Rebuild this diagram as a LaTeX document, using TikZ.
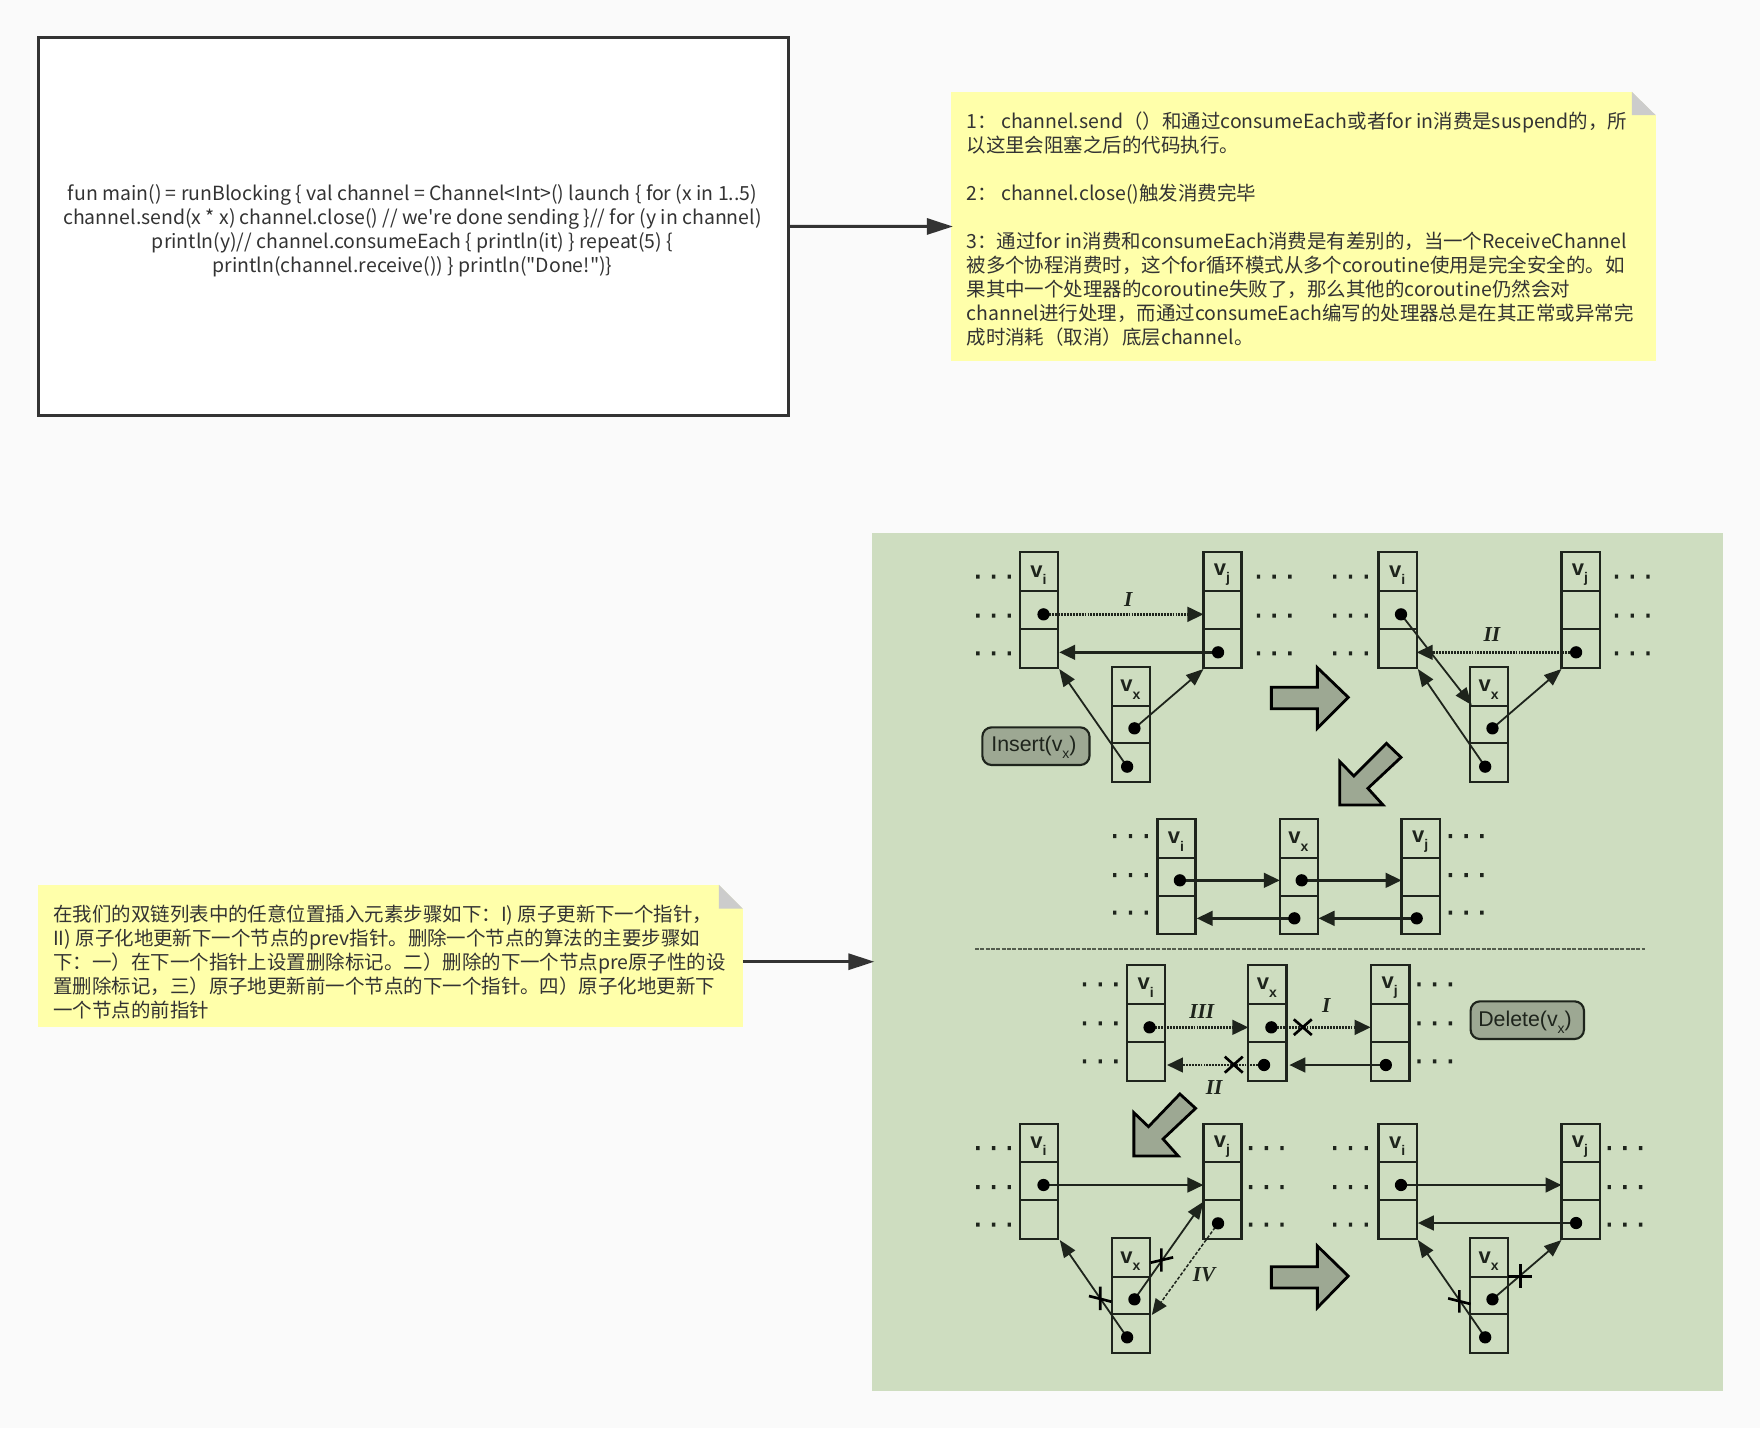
\documentclass[tikz,border=0pt]{standalone}
\usepackage{fontspec}
\usetikzlibrary{arrows.meta}
\newfontfamily\cnfont{Noto Sans CJK SC}
\newfontfamily\hvfont{Liberation Sans}
\newfontfamily\tmfont{Liberation Serif}
\definecolor{pagebg}{HTML}{FAFAFA}
\definecolor{notey}{HTML}{FFFFAA}
\definecolor{foldg}{HTML}{CCCCCC}
\definecolor{inkc}{HTML}{333333}
\definecolor{panelg}{HTML}{CEDDC0}
\definecolor{arrowg}{HTML}{9DA893}
\definecolor{linec}{HTML}{1E241C}
\tikzset{
  codebox/.style={draw=inkc,line width=2.25pt,fill=white,minimum width=750.5*0.75pt,minimum height=377.5*0.75pt,inner sep=0pt},
  notebox/.style={fill=notey,inner sep=0pt},
  cntext/.style={font=\cnfont\fontsize{14.6pt}{18pt}\selectfont,text=inkc,inner sep=0pt},
  conn/.style={draw=inkc,line width=2.25pt,-{Triangle[length=19.5pt,width=12pt,fill=inkc]},shorten >=-2pt},
  cellline/.style={draw=linec,line width=1.7pt},
  thick arrow/.style={draw=linec,line width=2pt,-{Triangle[length=12pt,width=11pt,fill=linec]}},
  thin arrow/.style={draw=linec,line width=1.35pt,-{Triangle[length=13pt,width=10pt,fill=linec]}},
  dot arrow/.style={draw=linec,line width=1.9pt,dash pattern=on 1.4pt off 0.8pt,-{Triangle[length=12pt,width=11pt,fill=linec]}},
  bigarrow/.style={draw=black,line width=2.1pt,fill=arrowg,line join=miter},
  pill/.style={draw=linec,line width=1.6pt,fill=arrowg,rounded corners=7pt},
  crossline/.style={draw=black,line width=2pt},
  romanlab/.style={font=\tmfont\itshape\bfseries\fontsize{16pt}{16pt}\selectfont,text=linec,inner sep=0pt},
  vlabel/.style={font=\hvfont\bfseries\fontsize{16.5pt}{16.5pt}\selectfont,text=linec,inner sep=0pt},
  pilltext/.style={font=\hvfont\fontsize{16pt}{16pt}\selectfont,text=linec,inner sep=0pt},
  zoomA/.style={shift={(860,520)},x=0.4209pt,y=-0.25pt},
  zoomB/.style={shift={(860,940)},x=0.4209pt,y=-0.25pt}
}
\newcommand{\subv}[1]{v\raisebox{-0.32em}{\fontsize{10.5pt}{10.5pt}\selectfont #1}}
% x, top, divider 1, divider 2, bottom, subscript
\newcommand{\cellcol}[6]{%
  \draw[cellline] (#1,#2) rectangle (#1+68,#5) (#1,#3) -- (#1+68,#3) (#1,#4) -- (#1+68,#4);
  \node[vlabel] at (#1+33,#2+68) {\subv{#6}};}
\newcommand{\rowdots}[2]{\fill[linec] (#1,#2-6) rectangle (#1+6,#2+6) (#1+28,#2-6) rectangle (#1+34,#2+6) (#1+56,#2-6) rectangle (#1+62,#2+6);}
\newcommand{\threedots}[4]{\rowdots{#1}{#2}\rowdots{#1}{#3}\rowdots{#1}{#4}}
\newcommand{\ptdot}[2]{\fill[black] (#1,#2) circle[radius=4.6pt];}
\begin{document}
\begin{tikzpicture}[x=0.75pt,y=-0.75pt]
\useasboundingbox (0,0) rectangle (1760,1428);
\fill[pagebg] (0,0) rectangle (1760,1428);

% code box
\node[codebox] (code) at (413.25,226.25) {};
\node[cntext,align=center] (codetext) at (412.5,231) {fun main() = runBlocking \{ val channel = Channel<Int>() launch \{ for (x in 1..5)\\channel.send(x * x) channel.close() // we're done sending \}// for (y in channel)\\println(y)// channel.consumeEach \{ println(it) \} repeat(5) \{\\println(channel.receive()) \} println("Done!")\}};

% note 1
\node[notebox,minimum width=705*0.75pt,minimum height=269*0.75pt] (note1) at (1303,226.5) {};
\fill[pagebg] (note1.north east) -- ++(-24,0) -- ++(24,23.5) -- cycle;
\fill[foldg] (note1.north east) ++(-24,0) -- ++(24,23.5) -- ++(-24,0) -- cycle;
\node[cntext,align=left,anchor=west] (note1text) at (966.3,229) {1：\ channel.send（）和通过consumeEach或者for in消费是suspend的，所\\以这里会阻塞之后的代码执行。\\[18pt]2：\ channel.close()触发消费完毕\\[18pt]3：通过for in消费和consumeEach消费是有差别的，当一个ReceiveChannel\\被多个协程消费时，这个for循环模式从多个coroutine使用是完全安全的。如\\果其中一个处理器的coroutine失败了，那么其他的coroutine仍然会对\\channel进行处理，而通过consumeEach编写的处理器总是在其正常或异常完\\成时消耗（取消）底层channel。};

% note 2
\node[notebox,minimum width=705*0.75pt,minimum height=142*0.75pt] (note2) at (390,956) {};
\fill[pagebg] (note2.north east) -- ++(-24,0) -- ++(24,24) -- cycle;
\fill[foldg] (note2.north east) ++(-24,0) -- ++(24,24) -- ++(-24,0) -- cycle;
\node[cntext,align=left,anchor=west] (note2text) at (53,962) {在我们的双链列表中的任意位置插入元素步骤如下：I) 原子更新下一个指针，\\II) 原子化地更新下一个节点的prev指针。删除一个节点的算法的主要步骤如\\下：一）在下一个指针上设置删除标记。二）删除的下一个节点pre原子性的设\\置删除标记，三）原子地更新前一个节点的下一个指针。四）原子化地更新下\\一个节点的前指针};

% panel
\node[fill=panelg,inner sep=0pt,minimum width=851*0.75pt,minimum height=858*0.75pt] (panel) at (1297.5,961.7) {};

% connectors
\draw[conn] (code.east) -- (note1.west);
\draw[conn] (panel.west -| note2.east) -- (panel.west);

% upper half of the panel
\begin{scope}[zoomA]
  % insert, left
  \cellcol{285}{97}{214}{327}{443}{i}
  \cellcol{612}{97}{214}{327}{443}{j}
  \cellcol{449}{441}{557}{670}{787}{x}
  \threedots{207}{170}{287}{400}
  \threedots{707}{170}{287}{400}
  \draw[dot arrow] (327,283) -- (612,283);
  \draw[thick arrow] (638,397) -- (355,397);
  \draw[thin arrow] (476,740) -- (355,447);
  \draw[thin arrow] (489,625) -- (612,447);
  \ptdot{327}{283}\ptdot{638}{397}\ptdot{489}{625}\ptdot{476}{740}
  \node[romanlab] at (478,238) {I};
  \draw[pill] (218,622) rectangle (409,735);
  \node[pilltext] at (310,681) {Insert(\subv{x})};
  % insert, right
  \cellcol{924}{97}{214}{327}{443}{i}
  \cellcol{1250}{97}{214}{327}{443}{j}
  \cellcol{1087}{441}{557}{670}{787}{x}
  \threedots{843}{170}{287}{400}
  \threedots{1345}{170}{287}{400}
  \draw[thin arrow] (964,283) -- (1090,555);
  \draw[dot arrow] (1276,397) -- (992,397);
  \draw[thin arrow] (1114,740) -- (994,447);
  \draw[thin arrow] (1127,625) -- (1250,447);
  \ptdot{964}{283}\ptdot{1276}{397}\ptdot{1127}{625}\ptdot{1114}{740}
  \node[romanlab] at (1126,345) {II};
  % block arrows
  \draw[bigarrow] (733,502) -- (815,502) -- (815,443) -- (870,532) -- (815,625) -- (815,566) -- (733,566) -- cycle;
  \draw[bigarrow] (938,670) -- (880,768) -- (855,725) -- (855,855) -- (932,855) -- (905,805) -- (964,712) -- cycle;
  % insert, result
  \cellcol{530}{897}{1014}{1127}{1241}{i}
  \cellcol{748}{897}{1014}{1127}{1241}{x}
  \cellcol{965}{897}{1014}{1127}{1241}{j}
  \threedots{451}{948}{1065}{1178}
  \threedots{1049}{948}{1065}{1178}
  \draw[thick arrow] (570,1081) -- (748,1081);
  \draw[thick arrow] (787,1081) -- (965,1081);
  \draw[thick arrow] (774,1195) -- (600,1195);
  \draw[thick arrow] (992,1195) -- (817,1195);
  \ptdot{570}{1081}\ptdot{787}{1081}\ptdot{774}{1195}\ptdot{992}{1195}
  % separator
  \draw[draw=linec!70!panelg,line width=1.3pt,dash pattern=on 3pt off 1pt] (205,1287) -- (1398,1287);
\end{scope}

% lower half of the panel
\begin{scope}[zoomB]
  % delete, top
  \cellcol{476}{75}{192}{306}{423}{i}
  \cellcol{692}{75}{192}{306}{423}{x}
  \cellcol{911}{75}{192}{306}{423}{j}
  \threedots{397}{133}{250}{364}
  \threedots{993}{133}{250}{364}
  \draw[dot arrow] (516,262) -- (692,262);
  \draw[dot arrow] (733,262) -- (910,262);
  \draw[dot arrow] (720,375) -- (547,375);
  \draw[thick arrow] (937,375) -- (765,375);
  \ptdot{516}{262}\ptdot{733}{262}\ptdot{720}{375}\ptdot{937}{375}
  \draw[crossline] (773,238) -- (805,285) (805,238) -- (773,285);
  \draw[crossline] (650,350) -- (682,398) (682,350) -- (650,398);
  \node[romanlab] at (609,215) {III};
  \node[romanlab] at (831,197) {I};
  \node[romanlab] at (631,443) {II};
  \draw[pill] (1088,184) rectangle (1290,297);
  \node[pilltext] at (1185,246) {Delete(\subv{x})};
  % block arrows
  \draw[bigarrow] (570,462) -- (514,560) -- (488,518) -- (488,648) -- (567,648) -- (540,597) -- (598,505) -- cycle;
  \draw[bigarrow] (733,980) -- (815,980) -- (815,918) -- (870,1008) -- (815,1103) -- (815,1044) -- (733,1044) -- cycle;
  % delete, left
  \cellcol{285}{551}{666}{780}{897}{i}
  \cellcol{612}{551}{666}{780}{897}{j}
  \cellcol{449}{895}{1010}{1123}{1240}{x}
  \threedots{207}{624}{741}{854}
  \threedots{693}{624}{741}{854}
  \draw[thick arrow] (327,735) -- (612,735);
  \draw[thin arrow] (476,1192) -- (356,900);
  \draw[thin arrow] (489,1078) -- (612,785);
  \draw[draw=linec,line width=1.1pt,dash pattern=on 2.5pt off 1.3pt,-{Triangle[length=12pt,width=10pt,fill=linec]}] (638,850) -- (520,1125);
  \ptdot{327}{735}\ptdot{638}{850}\ptdot{489}{1078}\ptdot{476}{1192}
  \draw[crossline] (428,1040) -- (428,1110) (408,1068) -- (448,1085);
  \draw[crossline] (537,925) -- (537,995) (518,968) -- (558,952);
  \node[romanlab] at (613,1005) {IV};
  % delete, right
  \cellcol{924}{551}{666}{780}{897}{i}
  \cellcol{1250}{551}{666}{780}{897}{j}
  \cellcol{1087}{895}{1010}{1123}{1240}{x}
  \threedots{843}{624}{741}{854}
  \threedots{1332}{624}{741}{854}
  \draw[thick arrow] (964,735) -- (1250,735);
  \draw[thick arrow] (1276,849) -- (994,849);
  \draw[thin arrow] (1114,1192) -- (994,900);
  \draw[thin arrow] (1127,1078) -- (1250,900);
  \ptdot{964}{735}\ptdot{1276}{849}\ptdot{1127}{1078}\ptdot{1114}{1192}
  \draw[crossline] (1068,1050) -- (1068,1118) (1048,1075) -- (1088,1092);
  \draw[crossline] (1177,972) -- (1177,1045) (1155,1010) -- (1197,1010);
\end{scope}
\end{tikzpicture}
\end{document}
